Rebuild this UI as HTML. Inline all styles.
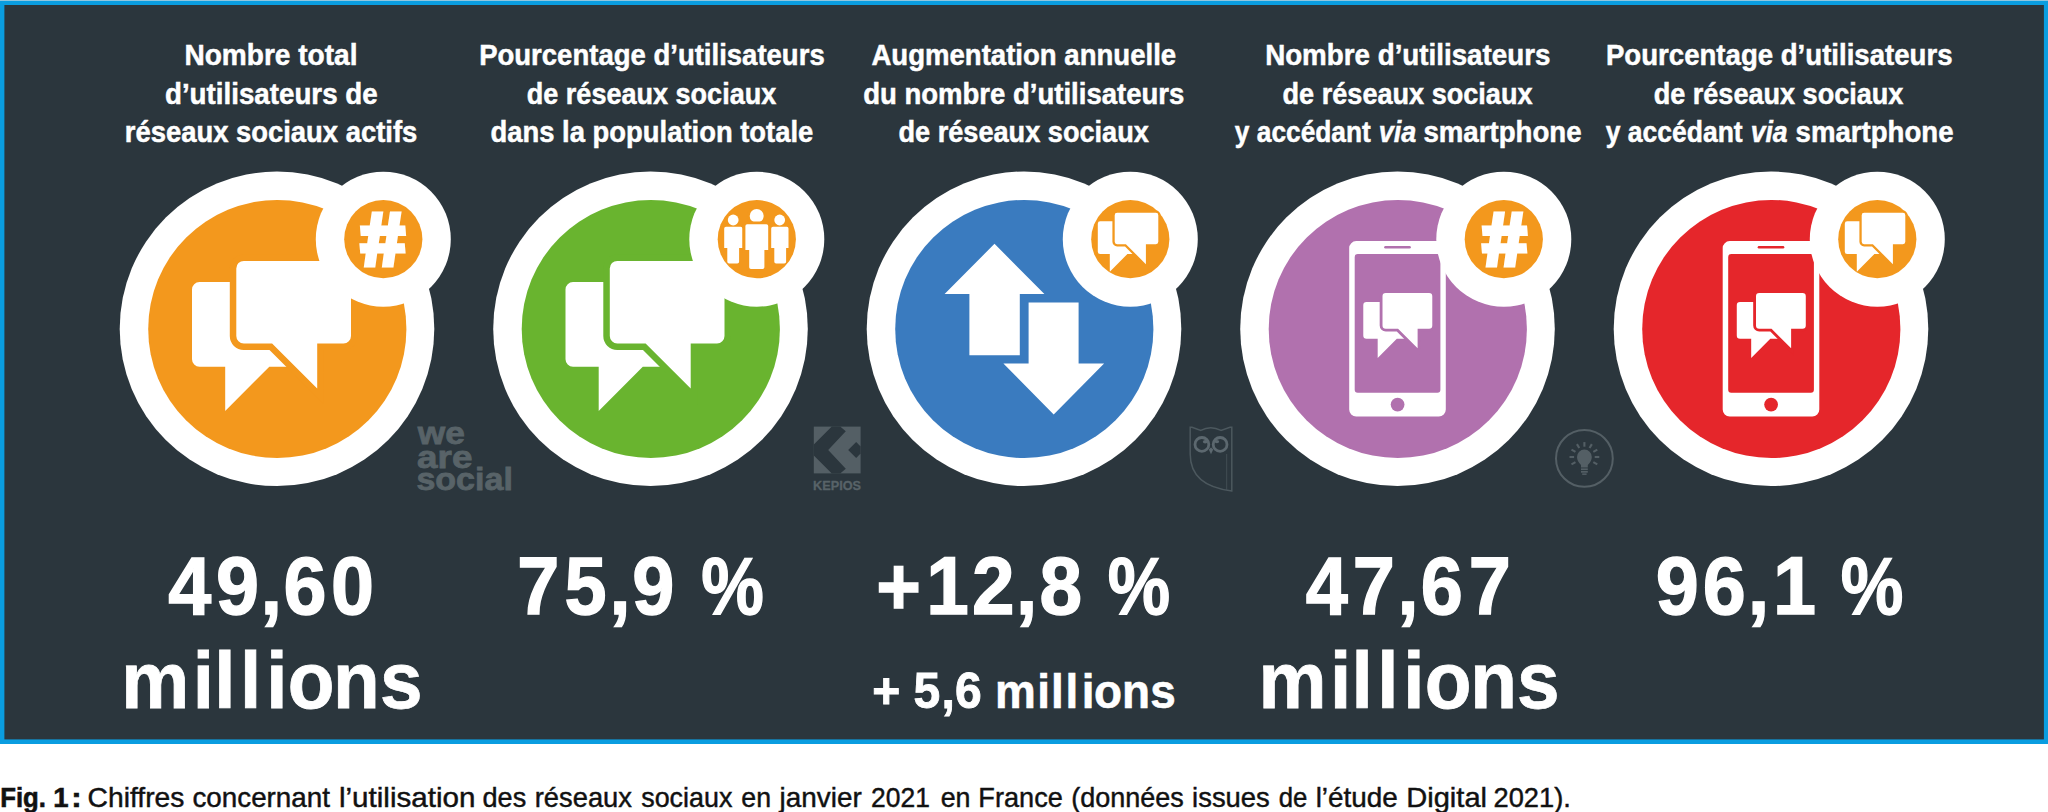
<!DOCTYPE html>
<html lang="fr"><head><meta charset="utf-8"><title>Fig. 1 : Chiffres concernant l’utilisation des réseaux sociaux en janvier 2021 en France</title>
<style>html,body{margin:0;padding:0;background:#fff}body{width:2048px;height:812px;overflow:hidden}svg{display:block}text{font-family:"Liberation Sans", sans-serif;white-space:pre}</style></head><body>
<svg width="2048" height="812" viewBox="0 0 2048 812">
<rect x="0" y="0" width="2048" height="812" fill="#fff"/>
<rect x="0" y="0" width="2048" height="744" fill="#0a9de0"/>
<rect x="0" y="0" width="2048" height="1" fill="#8fc6df"/>
<rect x="4.4" y="5" width="2039.5" height="734.4" fill="#2b363d"/>
<circle cx="277.0" cy="328.8" r="157.3" fill="#fff"/>
<circle cx="277.3" cy="329.0" r="129.1" fill="#f3981d"/>
<circle cx="650.5" cy="328.8" r="157.3" fill="#fff"/>
<circle cx="650.8" cy="329.0" r="129.1" fill="#69b42f"/>
<circle cx="1024.0" cy="328.8" r="157.3" fill="#fff"/>
<circle cx="1024.3" cy="329.0" r="129.1" fill="#3a7bbf"/>
<circle cx="1397.5" cy="328.8" r="157.3" fill="#fff"/>
<circle cx="1397.8" cy="329.0" r="129.1" fill="#b171ae"/>
<circle cx="1771.0" cy="328.8" r="157.3" fill="#fff"/>
<circle cx="1771.3" cy="329.0" r="129.1" fill="#e5262b"/>
<g fill="#fff"><path d="M199.5,282.0H299.2A7.5,7.5 0 0 1 306.7,289.5V359.3A7.5,7.5 0 0 1 299.2,366.8H269.30L225.2,410.9V366.8H199.5A7.5,7.5 0 0 1 192.0,359.3V289.5A7.5,7.5 0 0 1 199.5,282.0Z"/><path d="M243.8,260.9H343.5A7.5,7.5 0 0 1 351.0,268.4V336.0A7.5,7.5 0 0 1 343.5,343.5H317.2V388.6L272.10,343.5H243.8A7.5,7.5 0 0 1 236.3,336.0V268.4A7.5,7.5 0 0 1 243.8,260.9Z" stroke="#f3981d" stroke-width="13" stroke-linejoin="miter" paint-order="stroke"/></g>
<g transform="translate(373.5,0)" fill="#fff"><path d="M199.5,282.0H299.2A7.5,7.5 0 0 1 306.7,289.5V359.3A7.5,7.5 0 0 1 299.2,366.8H269.30L225.2,410.9V366.8H199.5A7.5,7.5 0 0 1 192.0,359.3V289.5A7.5,7.5 0 0 1 199.5,282.0Z"/><path d="M243.8,260.9H343.5A7.5,7.5 0 0 1 351.0,268.4V336.0A7.5,7.5 0 0 1 343.5,343.5H317.2V388.6L272.10,343.5H243.8A7.5,7.5 0 0 1 236.3,336.0V268.4A7.5,7.5 0 0 1 243.8,260.9Z" stroke="#69b42f" stroke-width="13" stroke-linejoin="miter" paint-order="stroke"/></g>
<path fill="#fff" d="M994.5,243.8L1044.4,294H1019.8V355.2H969.4V294H944.6Z"/><path fill="#fff" d="M1053.7,414.5L1003.4,363.6H1028.6V302.6H1078.6V363.6H1104.1Z"/>
<g transform="translate(0.00,0)"><path fill="#fff" d="M1356.20,241.10H1438.80A7,7 0 0 1 1445.80,248.10V409.60A7,7 0 0 1 1438.80,416.60H1356.20A7,7 0 0 1 1349.20,409.60V248.10A7,7 0 0 1 1356.20,241.10Z"/><path fill="#b171ae" d="M1357.70,253.90H1437.40A3,3 0 0 1 1440.40,256.90V389.70A3,3 0 0 1 1437.40,392.70H1357.70A3,3 0 0 1 1354.70,389.70V256.90A3,3 0 0 1 1357.70,253.90Z"/><rect x="1384.2" y="246.0" width="26.6" height="2.5" rx="1.2" fill="#b171ae"/><circle cx="1397.6" cy="404.6" r="6.9" fill="#b171ae"/><g transform="translate(1279.95,179.67) scale(0.434)" fill="#fff"><path d="M199.5,282.0H299.2A7.5,7.5 0 0 1 306.7,289.5V359.3A7.5,7.5 0 0 1 299.2,366.8H269.30L225.2,410.9V366.8H199.5A7.5,7.5 0 0 1 192.0,359.3V289.5A7.5,7.5 0 0 1 199.5,282.0Z"/><path d="M243.8,260.9H343.5A7.5,7.5 0 0 1 351.0,268.4V336.0A7.5,7.5 0 0 1 343.5,343.5H317.2V388.6L272.10,343.5H243.8A7.5,7.5 0 0 1 236.3,336.0V268.4A7.5,7.5 0 0 1 243.8,260.9Z" stroke="#b171ae" stroke-width="13" stroke-linejoin="miter" paint-order="stroke"/></g></g>
<g transform="translate(373.50,0)"><path fill="#fff" d="M1356.20,241.10H1438.80A7,7 0 0 1 1445.80,248.10V409.60A7,7 0 0 1 1438.80,416.60H1356.20A7,7 0 0 1 1349.20,409.60V248.10A7,7 0 0 1 1356.20,241.10Z"/><path fill="#e5262b" d="M1357.70,253.90H1437.40A3,3 0 0 1 1440.40,256.90V389.70A3,3 0 0 1 1437.40,392.70H1357.70A3,3 0 0 1 1354.70,389.70V256.90A3,3 0 0 1 1357.70,253.90Z"/><rect x="1384.2" y="246.0" width="26.6" height="2.5" rx="1.2" fill="#e5262b"/><circle cx="1397.6" cy="404.6" r="6.9" fill="#e5262b"/><g transform="translate(1279.95,179.67) scale(0.434)" fill="#fff"><path d="M199.5,282.0H299.2A7.5,7.5 0 0 1 306.7,289.5V359.3A7.5,7.5 0 0 1 299.2,366.8H269.30L225.2,410.9V366.8H199.5A7.5,7.5 0 0 1 192.0,359.3V289.5A7.5,7.5 0 0 1 199.5,282.0Z"/><path d="M243.8,260.9H343.5A7.5,7.5 0 0 1 351.0,268.4V336.0A7.5,7.5 0 0 1 343.5,343.5H317.2V388.6L272.10,343.5H243.8A7.5,7.5 0 0 1 236.3,336.0V268.4A7.5,7.5 0 0 1 243.8,260.9Z" stroke="#e5262b" stroke-width="13" stroke-linejoin="miter" paint-order="stroke"/></g></g>
<circle cx="383.3" cy="239.2" r="67.5" fill="#fff"/>
<circle cx="383.3" cy="239.2" r="39.1" fill="#f3981d"/>
<circle cx="756.8" cy="239.2" r="67.5" fill="#fff"/>
<circle cx="756.8" cy="239.2" r="39.1" fill="#f3981d"/>
<circle cx="1130.3" cy="239.2" r="67.5" fill="#fff"/>
<circle cx="1130.3" cy="239.2" r="39.1" fill="#f3981d"/>
<circle cx="1503.8" cy="239.2" r="67.5" fill="#fff"/>
<circle cx="1503.8" cy="239.2" r="39.1" fill="#f3981d"/>
<circle cx="1877.3" cy="239.2" r="67.5" fill="#fff"/>
<circle cx="1877.3" cy="239.2" r="39.1" fill="#f3981d"/>
<text transform="translate(383.30,239) skewX(4.8) translate(-383.30,-239)" x="360.35" y="265.2" font-size="74.9" font-weight="bold" fill="#fff" stroke="#fff" stroke-width="5" stroke-linejoin="miter" textLength="44.7" lengthAdjust="spacingAndGlyphs">#</text>
<g transform="translate(-0.20,0)" fill="#fff"><circle cx="733.4" cy="220.0" r="5.4"/><path d="M726.1999999999999,226.7H740.8000000000001A1.8,1.8 0 0 1 742.6,228.5V248.0H739.3V261.8A1.8,1.8 0 0 1 737.5,263.6H729.3A1.8,1.8 0 0 1 727.5,261.8V248.0H724.4V228.5A1.8,1.8 0 0 1 726.1999999999999,226.7Z"/><circle cx="779.9" cy="220.0" r="5.4"/><path d="M773.1999999999999,226.7H786.9000000000001A1.8,1.8 0 0 1 788.7,228.5V248.0H786.3V261.8A1.8,1.8 0 0 1 784.5,263.6H776.3A1.8,1.8 0 0 1 774.5,261.8V248.0H771.4V228.5A1.8,1.8 0 0 1 773.1999999999999,226.7Z"/><circle cx="756.9" cy="215.9" r="7.0" stroke="#f3981d" stroke-width="5.6" paint-order="stroke"/><path d="M747.4,224.3H766.6A1.8,1.8 0 0 1 768.4,226.10000000000002V250.0H764.6V267.2A1.8,1.8 0 0 1 762.8000000000001,269.0H751.1999999999999A1.8,1.8 0 0 1 749.4,267.2V250.0H745.6V226.10000000000002A1.8,1.8 0 0 1 747.4,224.3Z" stroke="#f3981d" stroke-width="5.6" paint-order="stroke"/></g>
<g transform="translate(-0.30,0)" fill="#fff"><path d="M1100.5,221.3H1139.3A2.4,2.4 0 0 1 1141.7,223.70000000000002V251.7A2.4,2.4 0 0 1 1139.3,254.1H1127.70L1110.1,271.7V254.1H1100.5A2.4,2.4 0 0 1 1098.1,251.7V223.70000000000002A2.4,2.4 0 0 1 1100.5,221.3Z"/><path d="M1117.4,212.8H1156.1999999999998A2.4,2.4 0 0 1 1158.6,215.20000000000002V241.79999999999998A2.4,2.4 0 0 1 1156.1999999999998,244.2H1146.2V264.2L1126.20,244.2H1117.4A2.4,2.4 0 0 1 1115.0,241.79999999999998V215.20000000000002A2.4,2.4 0 0 1 1117.4,212.8Z" stroke="#f3981d" stroke-width="4.6" paint-order="stroke"/></g>
<text transform="translate(1505.00,239) skewX(4.8) translate(-1505.00,-239)" x="1482.05" y="265.2" font-size="74.9" font-weight="bold" fill="#fff" stroke="#fff" stroke-width="5" stroke-linejoin="miter" textLength="44.7" lengthAdjust="spacingAndGlyphs">#</text>
<g transform="translate(746.70,0)" fill="#fff"><path d="M1100.5,221.3H1139.3A2.4,2.4 0 0 1 1141.7,223.70000000000002V251.7A2.4,2.4 0 0 1 1139.3,254.1H1127.70L1110.1,271.7V254.1H1100.5A2.4,2.4 0 0 1 1098.1,251.7V223.70000000000002A2.4,2.4 0 0 1 1100.5,221.3Z"/><path d="M1117.4,212.8H1156.1999999999998A2.4,2.4 0 0 1 1158.6,215.20000000000002V241.79999999999998A2.4,2.4 0 0 1 1156.1999999999998,244.2H1146.2V264.2L1126.20,244.2H1117.4A2.4,2.4 0 0 1 1115.0,241.79999999999998V215.20000000000002A2.4,2.4 0 0 1 1117.4,212.8Z" stroke="#f3981d" stroke-width="4.6" paint-order="stroke"/></g>
<rect x="813.8" y="426.6" width="46.8" height="46.8" fill="#545f65"/>
<polygon fill="#2b363d" points="813.80,444.40 831.80,426.60 840.20,426.60 845.80,431.20 828.20,450.00 845.80,468.80 840.20,473.40 831.80,473.40 813.80,455.60"/>
<polygon fill="#2b363d" points="848.20,450.00 856.20,442.00 860.60,446.40 860.60,453.60 856.20,458.00"/>
<g fill="none" stroke="#4c585e" stroke-width="1.5"><path d="M1190.2,427.2L1192,427.3L1200.8,430.4Q1210.6,425.2 1221,430.4L1230,427.3L1231.8,427.2V490.9Q1190.2,486 1190.2,454Z"/><path d="M1226.7,454V489.8" stroke-width="1" opacity="0.7"/><circle cx="1201.9" cy="444.4" r="6.9" stroke="#5c686f" stroke-width="2.8"/><circle cx="1220.1" cy="444.4" r="6.9" stroke="#5c686f" stroke-width="2.8"/></g>
<path fill="#5c686f" d="M1208.8,449.6L1211,447.6L1213.2,449.6L1211,454.2Z"/>
<ellipse cx="1205.2" cy="441.8" rx="2.3" ry="1.7" fill="#5c686f"/><ellipse cx="1216.9" cy="441.6" rx="2.3" ry="1.7" fill="#5c686f"/>
<g stroke="#545f65" fill="none"><circle cx="1584.4" cy="458.4" r="28.4" stroke-width="2.0"/><path d="M1575.48,462.15L1571.50,464.45" stroke-width="2.1"/><path d="M1574.10,457.00L1569.50,457.00" stroke-width="2.1"/><path d="M1575.48,451.85L1571.50,449.55" stroke-width="2.1"/><path d="M1579.25,448.08L1576.95,444.10" stroke-width="2.1"/><path d="M1584.40,446.70L1584.40,442.10" stroke-width="2.1"/><path d="M1589.55,448.08L1591.85,444.10" stroke-width="2.1"/><path d="M1593.32,451.85L1597.30,449.55" stroke-width="2.1"/><path d="M1594.70,457.00L1599.30,457.00" stroke-width="2.1"/><path d="M1593.32,462.15L1597.30,464.45" stroke-width="2.1"/></g><path fill="#545f65" d="M1581.0,467.4V465.0Q1577.0,461.2 1577.0,457.0A7.4,7.4 0 0 1 1591.8000000000002,457.0Q1591.8000000000002,461.2 1587.8000000000002,465.0V467.4Z"/><rect x="1581.0" y="468.4" width="6.8" height="1.7" fill="#545f65"/><rect x="1581.0" y="471.0" width="6.8" height="1.7" fill="#545f65"/><rect x="1582.2" y="473.4" width="4.4" height="1.5" fill="#545f65"/>
<text y="65.1" font-size="29.2" font-weight="bold" fill="#ffffff" stroke="#ffffff" stroke-width="0.5"><tspan x="184.42" textLength="173.07" lengthAdjust="spacingAndGlyphs">Nombre total</tspan></text>
<text y="103.6" font-size="29.2" font-weight="bold" fill="#ffffff" stroke="#ffffff" stroke-width="0.5"><tspan x="164.95" textLength="212.74" lengthAdjust="spacingAndGlyphs">d’utilisateurs de</tspan></text>
<text y="141.7" font-size="29.2" font-weight="bold" fill="#ffffff" stroke="#ffffff" stroke-width="0.5"><tspan x="124.76" textLength="292.6" lengthAdjust="spacingAndGlyphs">réseaux sociaux actifs</tspan></text>
<text y="65.1" font-size="29.2" font-weight="bold" fill="#ffffff" stroke="#ffffff" stroke-width="0.5"><tspan x="479.15" textLength="345.55" lengthAdjust="spacingAndGlyphs">Pourcentage d’utilisateurs</tspan></text>
<text y="103.6" font-size="29.2" font-weight="bold" fill="#ffffff" stroke="#ffffff" stroke-width="0.5"><tspan x="526.77" textLength="249.48" lengthAdjust="spacingAndGlyphs">de réseaux sociaux</tspan></text>
<text y="141.7" font-size="29.2" font-weight="bold" fill="#ffffff" stroke="#ffffff" stroke-width="0.5"><tspan x="490.56" textLength="322.77" lengthAdjust="spacingAndGlyphs">dans la population totale</tspan></text>
<text y="65.1" font-size="29.2" font-weight="bold" fill="#ffffff" stroke="#ffffff" stroke-width="0.5"><tspan x="871.43" textLength="304.74" lengthAdjust="spacingAndGlyphs">Augmentation annuelle</tspan></text>
<text y="103.6" font-size="29.2" font-weight="bold" fill="#ffffff" stroke="#ffffff" stroke-width="0.5"><tspan x="863.16" textLength="321.14" lengthAdjust="spacingAndGlyphs">du nombre d’utilisateurs</tspan></text>
<text y="141.7" font-size="29.2" font-weight="bold" fill="#ffffff" stroke="#ffffff" stroke-width="0.5"><tspan x="898.47" textLength="250.38" lengthAdjust="spacingAndGlyphs">de réseaux sociaux</tspan></text>
<text y="65.1" font-size="29.2" font-weight="bold" fill="#ffffff" stroke="#ffffff" stroke-width="0.5"><tspan x="1265.14" textLength="285.26" lengthAdjust="spacingAndGlyphs">Nombre d’utilisateurs</tspan></text>
<text y="103.6" font-size="29.2" font-weight="bold" fill="#ffffff" stroke="#ffffff" stroke-width="0.5"><tspan x="1282.57" textLength="249.98" lengthAdjust="spacingAndGlyphs">de réseaux sociaux</tspan></text>
<text y="141.7" font-size="29.2" font-weight="bold" fill="#ffffff" stroke="#ffffff" stroke-width="0.5"><tspan x="1234.8" textLength="136.03" lengthAdjust="spacingAndGlyphs">y accédant</tspan> <tspan x="1378.85" textLength="37.49" lengthAdjust="spacingAndGlyphs" font-style="italic">via</tspan> <tspan x="1423.39" textLength="158.27" lengthAdjust="spacingAndGlyphs">smartphone</tspan></text>
<text y="65.1" font-size="29.2" font-weight="bold" fill="#ffffff" stroke="#ffffff" stroke-width="0.5"><tspan x="1605.95" textLength="346.56" lengthAdjust="spacingAndGlyphs">Pourcentage d’utilisateurs</tspan></text>
<text y="103.6" font-size="29.2" font-weight="bold" fill="#ffffff" stroke="#ffffff" stroke-width="0.5"><tspan x="1653.67" textLength="249.78" lengthAdjust="spacingAndGlyphs">de réseaux sociaux</tspan></text>
<text y="141.7" font-size="29.2" font-weight="bold" fill="#ffffff" stroke="#ffffff" stroke-width="0.5"><tspan x="1605.8" textLength="136.83" lengthAdjust="spacingAndGlyphs">y accédant</tspan> <tspan x="1750.66" textLength="36.97" lengthAdjust="spacingAndGlyphs" font-style="italic">via</tspan> <tspan x="1795.59" textLength="157.96" lengthAdjust="spacingAndGlyphs">smartphone</tspan></text>
<text y="444.4" font-size="32" font-weight="bold" fill="#586368" stroke="#586368" stroke-width="0.8"><tspan x="417.75" textLength="47.11" lengthAdjust="spacingAndGlyphs">we</tspan></text>
<text y="467.6" font-size="32" font-weight="bold" fill="#586368" stroke="#586368" stroke-width="0.8"><tspan x="417.12" textLength="55.29" lengthAdjust="spacingAndGlyphs">are</tspan></text>
<text y="490.4" font-size="32" font-weight="bold" fill="#586368" stroke="#586368" stroke-width="0.8"><tspan x="416.4" textLength="96.49" lengthAdjust="spacingAndGlyphs">social</tspan></text>
<text y="490.4" font-size="13.7" font-weight="bold" fill="#586368" stroke="#586368" stroke-width="0.3"><tspan x="813.1" textLength="47.94" lengthAdjust="spacingAndGlyphs">KEPIOS</tspan></text>
<text y="807.0" font-size="27.9" font-weight="bold" fill="#111111" stroke="#111111" stroke-width="0.6"><tspan x="0.22" textLength="45.74" lengthAdjust="spacingAndGlyphs">Fig.</tspan> <tspan x="53.22" textLength="15.29" lengthAdjust="spacingAndGlyphs">1</tspan> <tspan x="71.29" textLength="10.37" lengthAdjust="spacingAndGlyphs">:</tspan> <tspan x="87.63" textLength="96.82" lengthAdjust="spacingAndGlyphs" font-weight="normal" stroke-width="0.45">Chiffres</tspan> <tspan x="192.4" textLength="137.6" lengthAdjust="spacingAndGlyphs" font-weight="normal" stroke-width="0.45">concernant</tspan> <tspan x="338.94" textLength="136.58" lengthAdjust="spacingAndGlyphs" font-weight="normal" stroke-width="0.45">l’utilisation</tspan> <tspan x="482.53" textLength="43.67" lengthAdjust="spacingAndGlyphs" font-weight="normal" stroke-width="0.45">des</tspan> <tspan x="534.78" textLength="97.2" lengthAdjust="spacingAndGlyphs" font-weight="normal" stroke-width="0.45">réseaux</tspan> <tspan x="641.22" textLength="91.12" lengthAdjust="spacingAndGlyphs" font-weight="normal" stroke-width="0.45">sociaux</tspan> <tspan x="741.34" textLength="29.72" lengthAdjust="spacingAndGlyphs" font-weight="normal" stroke-width="0.45">en</tspan> <tspan x="779.6" textLength="82.17" lengthAdjust="spacingAndGlyphs" font-weight="normal" stroke-width="0.45">janvier</tspan> <tspan x="871.12" textLength="58.78" lengthAdjust="spacingAndGlyphs" font-weight="normal" stroke-width="0.45">2021</tspan> <tspan x="940.64" textLength="29.83" lengthAdjust="spacingAndGlyphs" font-weight="normal" stroke-width="0.45">en</tspan> <tspan x="978.35" textLength="84.48" lengthAdjust="spacingAndGlyphs" font-weight="normal" stroke-width="0.45">France</tspan> <tspan x="1071.25" textLength="112.54" lengthAdjust="spacingAndGlyphs" font-weight="normal" stroke-width="0.45">(données</tspan> <tspan x="1192.08" textLength="77.72" lengthAdjust="spacingAndGlyphs" font-weight="normal" stroke-width="0.45">issues</tspan> <tspan x="1278.78" textLength="28.68" lengthAdjust="spacingAndGlyphs" font-weight="normal" stroke-width="0.45">de</tspan> <tspan x="1315.65" textLength="82.2" lengthAdjust="spacingAndGlyphs" font-weight="normal" stroke-width="0.45">l’étude</tspan> <tspan x="1406.21" textLength="80.87" lengthAdjust="spacingAndGlyphs" font-weight="normal" stroke-width="0.45">Digital</tspan> <tspan x="1493.58" textLength="77.21" lengthAdjust="spacingAndGlyphs" font-weight="normal" stroke-width="0.45">2021).</tspan></text>
<text transform="scale(0.94,1)" x="178.88 229.7 277.12 301.65 352.02" y="614.3" font-size="82.3" font-weight="bold" fill="#ffffff" stroke="#ffffff" stroke-width="1.4">49,60</text>
<text transform="scale(0.97,1)" x="125.01 198.66 220.98 247.37 274.38 296.57 343.33 391.65" y="707.6" font-size="78.9" font-weight="bold" fill="#ffffff" stroke="#ffffff" stroke-width="0.8">millions</text>
<text transform="scale(0.92,1)" x="562.12 613.47 662.52 687.36" y="614.3" font-size="82.3" font-weight="bold" fill="#ffffff" stroke="#ffffff" stroke-width="1.4">75,9 <tspan x="762.21" textLength="68.04" lengthAdjust="spacingAndGlyphs">%</tspan></text>
<text transform="scale(0.93,1)" x="942.11 996.08 1045.12 1092.42 1117.66" y="614.3" font-size="82.3" font-weight="bold" fill="#ffffff" stroke="#ffffff" stroke-width="1.4">+12,8 <tspan x="1191.22" textLength="67.09" lengthAdjust="spacingAndGlyphs">%</tspan></text>
<text transform="scale(0.96,1)" x="908.5 936.0 951.68 980.6 994.77" y="708.0" font-size="50" font-weight="bold" fill="#ffffff" stroke="#ffffff" stroke-width="0.9">+ 5,6 <tspan x="1036.53 1080.55 1094.87 1109.87 1126.95 1139.52 1168.69 1198.17" font-size="47.8" stroke-width="0.6">millions</tspan></text>
<text transform="scale(0.92,1)" x="1419.25 1470.28 1519.15 1544.3 1596.36" y="614.3" font-size="82.3" font-weight="bold" fill="#ffffff" stroke="#ffffff" stroke-width="1.4">47,67</text>
<text transform="scale(0.97,1)" x="1297.38 1371.03 1393.35 1419.74 1446.75 1468.94 1515.7 1564.02" y="707.6" font-size="78.9" font-weight="bold" fill="#ffffff" stroke="#ffffff" stroke-width="0.8">millions</text>
<text transform="scale(0.94,1)" x="1761.45 1811.54 1859.19 1886.07" y="614.3" font-size="82.3" font-weight="bold" fill="#ffffff" stroke="#ffffff" stroke-width="1.4">96,1 <tspan x="1958.12" textLength="66.60" lengthAdjust="spacingAndGlyphs">%</tspan></text>
</svg></body></html>
